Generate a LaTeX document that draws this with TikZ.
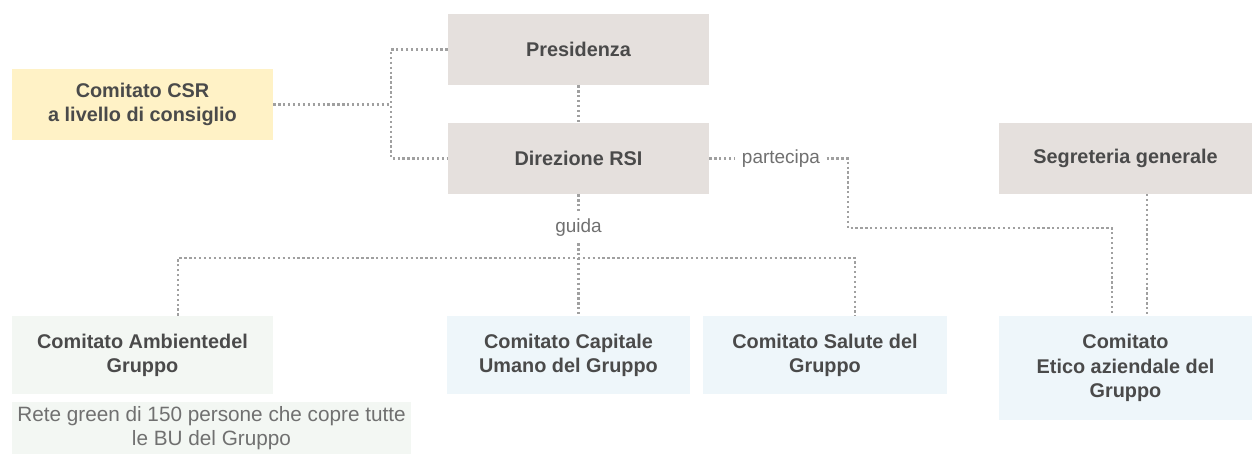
\documentclass[tikz,border=0pt]{standalone}
\usepackage{fontspec}
\setmainfont{Liberation Sans}
\usepackage{tikz}
\usepackage{xcolor}

\definecolor{boxgray}{HTML}{E5E0DD}
\definecolor{boxyellow}{HTML}{FFF2C6}
\definecolor{boxgreen}{HTML}{F3F7F3}
\definecolor{boxblue}{HTML}{EEF6FA}
\definecolor{txtdark}{HTML}{4A4A4A}
\definecolor{txtlight}{HTML}{707070}
\definecolor{dotgray}{HTML}{A0A0A0}

\begin{document}
\begin{tikzpicture}[x=0.02cm,y=-0.02cm,
    orgbox/.style={inner sep=0pt,align=center,text=txtdark,
        font=\fontsize{11.3}{13.8}\selectfont\bfseries},
    notebox/.style={inner sep=0pt,align=center,text=txtlight,
        font=\fontsize{11.8}{13.6}\selectfont},
    lbl/.style={inner sep=3.5pt,text=txtlight,font=\fontsize{10.8}{12}\selectfont},
    link/.style={draw=dotgray,line width=1.3pt,dash pattern=on 1.3pt off 1.5pt}]
        \useasboundingbox (0,0) rectangle (1252,454);
        % top level
        \node[orgbox,fill=boxgray,minimum width=261*0.02cm,minimum height=71*0.02cm] (pres) at (578.5,49.5) {Presidenza};
        \node[orgbox,fill=boxgray,minimum width=261*0.02cm,minimum height=71*0.02cm] (dir) at (578.5,158.5) {Direzione RSI};
        \node[orgbox,fill=boxyellow,minimum width=261*0.02cm,minimum height=71*0.02cm] (csr) at (142.5,104.5) {Comitato CSR\\a livello di consiglio};
        \node[orgbox,fill=boxgray,minimum width=253*0.02cm,minimum height=71*0.02cm] (segr) at (1125.5,158.5) {Segreteria generale};
        % committees
        \node[orgbox,fill=boxgreen,minimum width=261*0.02cm,minimum height=78*0.02cm] (amb) at (142.5,355) {Comitato Ambientedel\\Gruppo};
        \node[notebox,fill=boxgreen,minimum width=399*0.02cm,minimum height=52*0.02cm] (rete) at (211.5,428) {Rete green di 150 persone che copre tutte\\le BU del Gruppo};
        \node[orgbox,fill=boxblue,minimum width=243*0.02cm,minimum height=78*0.02cm] (cap) at (568.5,355) {Comitato Capitale\\Umano del Gruppo};
        \node[orgbox,fill=boxblue,minimum width=244*0.02cm,minimum height=78*0.02cm] (sal) at (825,355) {Comitato Salute del\\Gruppo};
        \node[orgbox,fill=boxblue,minimum width=253*0.02cm,minimum height=104*0.02cm] (etico) at (1125.5,368) {Comitato\\Etico aziendale del\\Gruppo};
        % labels on links
        \node[lbl] (guida) at (578.5,228) {guida};
        \node[lbl] (partecipa) at (781,158.5) {partecipa};
        % junctions
        \coordinate (jcsr) at (391,104.5);
        \coordinate (busA) at (178,258);
        \coordinate (busC) at (578.5,258);
        \coordinate (busS) at (855,258);
        \coordinate (jpart) at (848,158.5);
        \coordinate (jet) at (1112,228);
        \coordinate (jsegr) at (1147,194);
        % links
        \draw[link] (csr.east) -- (jcsr);
        \draw[link] (pres.west) -| (jcsr) |- (dir.west);
        \draw[link] (pres.south) -- (dir.north);
        \draw[link] (dir.south) -- (guida.north);
        \draw[link] (guida.south) -- (busC);
        \draw[link] (busA |- amb.north) -- (busA) -- (busS) -- (busS |- sal.north);
        \draw[link] (busC) -- (busC |- cap.north);
        \draw[link] (dir.east) -- (partecipa.west);
        \draw[link] (partecipa.east) -- (jpart) |- (jet) -- (jet |- etico.north);
        \draw[link] (jsegr) -- (jsegr |- etico.north);
\end{tikzpicture}
\end{document}
